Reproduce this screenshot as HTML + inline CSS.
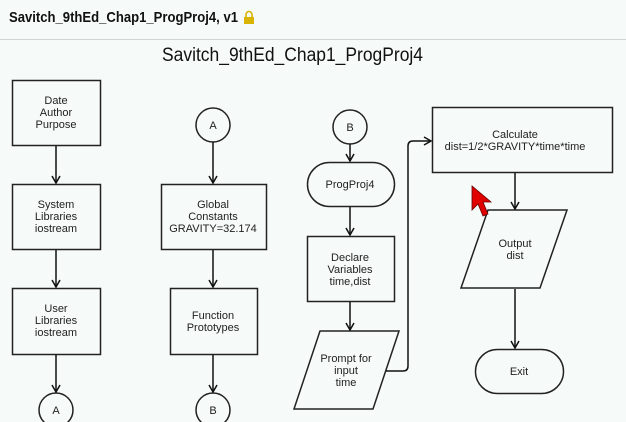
<!DOCTYPE html>
<html><head><style>
html,body{margin:0;padding:0;width:626px;height:422px;overflow:hidden;background:#f6faf8;font-family:"Liberation Sans",sans-serif}
</style></head><body>
<svg width="626" height="422" xmlns="http://www.w3.org/2000/svg" style="position:absolute;left:0;top:0">
<defs><marker id="ah" markerWidth="10" markerHeight="10" refX="8" refY="5" orient="auto" markerUnits="userSpaceOnUse"><path d="M1,1 L8,5 L1,9" fill="none" stroke="#111" stroke-width="1.5"/></marker></defs>
<rect width="626" height="39" fill="#f6faf8"/>
<text x="9" y="22" font-size="15" font-weight="bold" fill="#111" textLength="229" lengthAdjust="spacingAndGlyphs">Savitch_9thEd_Chap1_ProgProj4, v1</text>
<g transform="translate(244,11)"><path d="M2,6 V3.5 a3,3 0 0 1 6,0 V6" fill="none" stroke="#d8b400" stroke-width="1.6"/><rect x="0" y="6" width="10" height="7" fill="#d8b400"/></g>
<line x1="0" y1="39.5" x2="626" y2="39.5" stroke="#d0d4d2"/>
<text x="162" y="61" font-size="19" fill="#111" textLength="261" lengthAdjust="spacingAndGlyphs">Savitch_9thEd_Chap1_ProgProj4</text>
<g fill="none" stroke="#222" stroke-width="1.5">
<rect x="12.5" y="80.5" width="88" height="65"/>
<rect x="12.5" y="184.5" width="88" height="65"/>
<rect x="12.5" y="288.5" width="88" height="66"/>
<circle cx="56" cy="410" r="17"/>
<circle cx="213" cy="125" r="17"/>
<rect x="161.5" y="184.5" width="105" height="65"/>
<rect x="170.5" y="288.5" width="87" height="66"/>
<circle cx="213" cy="410" r="17"/>
<circle cx="350" cy="127" r="17"/>
<rect x="307.5" y="162.5" width="87" height="44" rx="22"/>
<rect x="307.5" y="236.5" width="87" height="65"/>
<path d="M320,331 L399,331 L373,409 L294,409 Z"/>
<rect x="432.5" y="107.5" width="180" height="65"/>
<path d="M488,210 L567,210 L540,288 L461,288 Z"/>
<rect x="475.5" y="349.5" width="88" height="44" rx="22"/>
</g>
<g stroke="#111" stroke-width="1.5" fill="none" marker-end="url(#ah)">
<line x1="56" y1="146" x2="56" y2="183"/>
<line x1="56" y1="250" x2="56" y2="287"/>
<line x1="56" y1="355" x2="56" y2="392"/>
<line x1="213" y1="142" x2="213" y2="183"/>
<line x1="213" y1="250" x2="213" y2="287"/>
<line x1="213" y1="355" x2="213" y2="392"/>
<line x1="350" y1="144" x2="350" y2="161"/>
<line x1="350" y1="207" x2="350" y2="235"/>
<line x1="350" y1="302" x2="350" y2="330"/>
<path d="M386,371 L403,371 Q408,371 408,366 L408,146 Q408,141 413,141 L431,141"/>
<line x1="515" y1="173" x2="515" y2="209"/>
<line x1="515" y1="289" x2="515" y2="348"/>
</g>
<g font-size="11" fill="#222" text-anchor="middle">
<text x="56" y="104">Date</text><text x="56" y="116">Author</text><text x="56" y="128">Purpose</text>
<text x="56" y="208">System</text><text x="56" y="220">Libraries</text><text x="56" y="232">iostream</text>
<text x="56" y="312">User</text><text x="56" y="324">Libraries</text><text x="56" y="336">iostream</text>
<text x="56" y="414">A</text>
<text x="213" y="129">A</text>
<text x="213" y="208">Global</text><text x="213" y="220">Constants</text><text x="213" y="232">GRAVITY=32.174</text>
<text x="213" y="319">Function</text><text x="213" y="331">Prototypes</text>
<text x="213" y="414">B</text>
<text x="350" y="131">B</text>
<text x="350" y="188">ProgProj4</text>
<text x="350" y="261">Declare</text><text x="350" y="273">Variables</text><text x="350" y="285">time,dist</text>
<text x="346" y="362">Prompt for</text><text x="346" y="374">input</text><text x="346" y="386">time</text>
<text x="515" y="138">Calculate</text><text x="515" y="150">dist=1/2*GRAVITY*time*time</text>
<text x="515" y="247">Output</text><text x="515" y="259">dist</text>
<text x="519" y="375">Exit</text>
</g>
<path d="M472,186 L472,210 L478,204 L483,216 L488,214 L483,202 L491,202 Z" fill="#e00000" stroke="#600" stroke-width="0.8"/>
</svg>
</body></html>
